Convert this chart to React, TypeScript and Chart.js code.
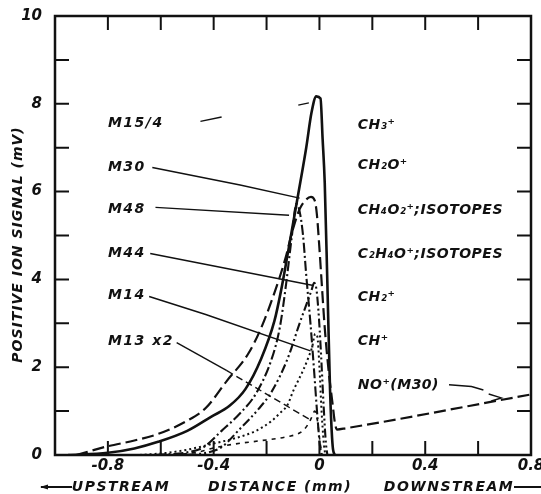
import React, { useEffect, useRef } from "react";
import { Chart, registerables } from "chart.js";

Chart.register(...registerables);

// ---- axis ranges & tick labels ----
const xMin = -1.0;
const xMax = 0.8;
const yMin = 0;
const yMax = 10;
const xLabelValues = [-0.8, -0.4, 0, 0.4, 0.8];
const xLabelTexts = ["-0.8", "-0.4", "0", "0.4", "0.8"];
const yLabelValues = [0, 2, 4, 6, 8, 10];
const yLabelTexts = ["0", "2", "4", "6", "8", "10"];

// ---- series (distance mm, signal mV) ----
// M15/4  CH3+  (solid)
const m15x = [-0.95, -0.8, -0.7, -0.61, -0.5, -0.41, -0.34, -0.28, -0.22, -0.17, -0.145, -0.118, -0.08, -0.05, -0.03, -0.012, 0.004, 0.012, 0.02, 0.03, 0.04, 0.05, 0.058];
const m15y = [0.0, 0.05, 0.15, 0.3, 0.55, 0.87, 1.12, 1.5, 2.2, 3.06, 3.75, 4.65, 5.95, 7.0, 7.8, 8.17, 8.12, 7.2, 6.2, 3.9, 1.5, 0.2, 0.0];
// M30  CH2O+ and NO+(M30)  (long dash)
const m30x = [-0.92, -0.8, -0.7, -0.61, -0.5, -0.43, -0.35, -0.27, -0.22, -0.17, -0.13, -0.1, -0.075, -0.05, -0.032, -0.018, -0.01, 0.0, 0.008, 0.02, 0.035, 0.05, 0.058, 0.066, 0.1, 0.8];
const m30y = [0.0, 0.2, 0.33, 0.48, 0.78, 1.07, 1.69, 2.3, 2.9, 3.7, 4.45, 5.15, 5.6, 5.82, 5.88, 5.8, 5.5, 4.7, 3.97, 2.9, 1.9, 1.15, 0.75, 0.58, 0.61, 1.38];
// M48  CH4O2+ (dash-dot)
const m48x = [-0.62, -0.5, -0.44, -0.37, -0.3, -0.24, -0.18, -0.15, -0.126, -0.105, -0.087, -0.075, -0.062, -0.05, -0.034, -0.02, -0.008, 0.002, 0.008];
const m48y = [0.0, 0.06, 0.17, 0.55, 0.95, 1.4, 2.2, 2.9, 3.9, 4.95, 5.72, 5.55, 5.0, 4.1, 3.0, 1.9, 0.9, 0.2, 0.0];
// M44  C2H4O+ (dash-dot-dot)
const m44x = [-0.5, -0.42, -0.37, -0.3, -0.23, -0.18, -0.12, -0.075, -0.045, -0.03, -0.02, -0.012, -0.004, 0.006, 0.016, 0.024, 0.03];
const m44y = [0.0, 0.06, 0.18, 0.6, 1.05, 1.45, 2.2, 3.0, 3.5, 3.75, 3.92, 3.8, 3.3, 2.3, 1.1, 0.3, 0.0];
// M14  CH2+ (dotted)
const m14x = [-0.68, -0.575, -0.5, -0.4, -0.32, -0.24, -0.18, -0.15, -0.12, -0.1, -0.08, -0.06, -0.04, -0.028, -0.016, -0.008, 0.0, 0.008, 0.016, 0.022];
const m14y = [0.0, 0.05, 0.12, 0.26, 0.38, 0.55, 0.78, 0.95, 1.15, 1.45, 1.7, 1.95, 2.25, 2.45, 2.76, 2.7, 2.0, 1.0, 0.3, 0.0];
// M13 x2  CH+ (short dash)
const m13x = [-0.55, -0.45, -0.4, -0.32, -0.23, -0.12, -0.07, -0.045, -0.03, -0.018, -0.008, 0.002, 0.01];
const m13y = [0.0, 0.08, 0.16, 0.25, 0.32, 0.42, 0.52, 0.68, 0.85, 1.0, 0.8, 0.3, 0.0];

// ---- leader lines ----
const leadM15aX = [-0.45, -0.37];
const leadM15aY = [7.6, 7.7];
const leadM15bX = [-0.08, -0.04];
const leadM15bY = [7.97, 8.02];
const leadM30X = [-0.632, -0.3, -0.075];
const leadM30Y = [6.55, 6.15, 5.85];
const leadM48X = [-0.62, -0.115];
const leadM48Y = [5.64, 5.46];
const leadM44X = [-0.64, -0.023];
const leadM44Y = [4.59, 3.86];
const leadM14X = [-0.644, -0.43, -0.034];
const leadM14Y = [3.61, 3.2, 2.37];
const leadM13aX = [-0.54, -0.35];
const leadM13aY = [2.56, 1.92];
const leadM13bX = [-0.35, -0.04];
const leadM13bY = [1.92, 0.82];
const leadNOX = [0.49, 0.575, 0.62];
const leadNOY = [1.6, 1.56, 1.48];
const chevNOX = [0.64, 0.688, 0.65];
const chevNOY = [1.39, 1.3, 1.23];

// ---- text labels ----
const leftLabels = ["M15/4", "M30", "M48", "M44", "M14", "M13 x2"];
const leftLabelY = [7.55, 6.56, 5.59, 4.59, 3.63, 2.6];
const leftLabelX = -0.8;
const rightLabels = ["CH₃⁺", "CH₂O⁺", "CH₄O₂⁺;ISOTOPES", "C₂H₄O⁺;ISOTOPES", "CH₂⁺", "CH⁺", "NO⁺(M30)"];
const rightLabelY = [7.5, 6.6, 5.57, 4.57, 3.6, 2.6, 1.58];
const rightLabelX = 0.145;
const yTitle = "POSITIVE ION SIGNAL (mV)";
const xTitleLeft = "UPSTREAM";
const xTitleMid = "DISTANCE (mm)";
const xTitleRight = "DOWNSTREAM";

const FONT = '"DejaVu Sans", sans-serif';

function pts(xs: number[], ys: number[]) {
  return xs.map((x, i) => ({ x, y: ys[i] }));
}

function curve(data: any, dash: number[], width: number) {
  return {
    data,
    borderColor: "#111",
    borderWidth: width,
    borderDash: dash,
    pointRadius: 0,
    fill: false,
    cubicInterpolationMode: "monotone" as const,
    borderCapStyle: "butt" as const,
  };
}

function leader(data: any, dash: number[] = []) {
  return {
    data,
    borderColor: "#111",
    borderWidth: 1.4,
    borderDash: dash,
    pointRadius: 0,
    fill: false,
    tension: 0,
  };
}

const annotPlugin = {
  id: "annot",
  afterDatasetsDraw(chart: any) {
    const { ctx, chartArea: a, scales } = chart;
    const sx = scales.x;
    const sy = scales.y;
    ctx.save();
    ctx.strokeStyle = "#111";
    ctx.fillStyle = "#111";
    // frame
    ctx.lineWidth = 2.5;
    ctx.strokeRect(a.left, a.top, a.right - a.left, a.bottom - a.top);
    // inward ticks
    ctx.lineWidth = 2;
    const tl = 14;
    ctx.beginPath();
    sx.ticks.forEach((t: any) => {
      if (t.value > xMin + 1e-6 && t.value < xMax - 1e-6) {
        const px = sx.getPixelForValue(t.value);
        ctx.moveTo(px, a.bottom);
        ctx.lineTo(px, a.bottom - tl);
        ctx.moveTo(px, a.top);
        ctx.lineTo(px, a.top + tl);
      }
    });
    sy.ticks.forEach((t: any) => {
      if (t.value > yMin + 1e-6 && t.value < yMax - 1e-6) {
        const py = sy.getPixelForValue(t.value);
        ctx.moveTo(a.left, py);
        ctx.lineTo(a.left + tl, py);
        ctx.moveTo(a.right, py);
        ctx.lineTo(a.right - tl, py);
      }
    });
    ctx.stroke();

    // series labels
    ctx.textAlign = "left";
    ctx.textBaseline = "middle";
    ctx.font = `italic bold 14px ${FONT}`;
    (ctx as any).letterSpacing = "1.5px";
    leftLabels.forEach((s, i) => {
      ctx.fillText(s, sx.getPixelForValue(leftLabelX), sy.getPixelForValue(leftLabelY[i]));
    });
    (ctx as any).letterSpacing = "0.5px";
    rightLabels.forEach((s, i) => {
      ctx.fillText(s, sx.getPixelForValue(rightLabelX), sy.getPixelForValue(rightLabelY[i]));
    });

    // y title
    ctx.font = `italic bold 14px ${FONT}`;
    (ctx as any).letterSpacing = "1px";
    ctx.save();
    ctx.translate(18, (a.top + a.bottom) / 2 + 9);
    ctx.rotate(-Math.PI / 2);
    ctx.textAlign = "center";
    ctx.fillText(yTitle, 0, 0);
    ctx.restore();

    // x title row
    const ty = 487;
    (ctx as any).letterSpacing = "1.5px";
    ctx.textAlign = "center";
    ctx.fillText(xTitleLeft, 121, ty);
    ctx.fillText(xTitleMid, 280, ty);
    ctx.fillText(xTitleRight, 449, ty);
    ctx.lineWidth = 1.8;
    ctx.beginPath();
    ctx.moveTo(41, ty);
    ctx.lineTo(72, ty);
    ctx.moveTo(514, ty);
    ctx.lineTo(541, ty);
    ctx.stroke();
    ctx.beginPath();
    ctx.moveTo(40, ty);
    ctx.lineTo(48, ty - 2.5);
    ctx.lineTo(48, ty + 2.5);
    ctx.closePath();
    ctx.fill();
    ctx.restore();
  },
};

export default function App() {
  const ref = useRef<HTMLCanvasElement | null>(null);
  useEffect(() => {
    if (!ref.current) return;
    const tickFont = { family: FONT, size: 15, style: "italic" as const, weight: "bold" as const };
    const chart = new Chart(ref.current, {
      type: "line",
      data: {
        datasets: [
          curve(pts(m15x, m15y), [], 2.6),
          curve(pts(m30x, m30y), [12, 5], 2.2),
          curve(pts(m48x, m48y), [10, 3, 2, 3], 2.1),
          curve(pts(m44x, m44y), [9, 3, 2, 3, 2, 3], 2.1),
          curve(pts(m14x, m14y), [2, 3], 2.0),
          curve(pts(m13x, m13y), [4, 5], 1.6),
          leader(pts(leadM15aX, leadM15aY)),
          leader(pts(leadM15bX, leadM15bY)),
          leader(pts(leadM30X, leadM30Y)),
          leader(pts(leadM48X, leadM48Y)),
          leader(pts(leadM44X, leadM44Y)),
          leader(pts(leadM14X, leadM14Y)),
          leader(pts(leadM13aX, leadM13aY)),
          leader(pts(leadM13bX, leadM13bY), [7, 4]),
          leader(pts(leadNOX, leadNOY)),
          leader(pts(chevNOX, chevNOY)),
        ] as any,
      },
      options: {
        animation: false,
        responsive: false,
        events: [],
        layout: { padding: { top: 16, right: 10, left: 0, bottom: 0 } },
        plugins: { legend: { display: false }, tooltip: { enabled: false } },
        scales: {
          x: {
            type: "linear",
            min: xMin,
            max: xMax,
            grid: { display: false },
            border: { display: false },
            ticks: {
              stepSize: 0.2,
              autoSkip: false,
              maxRotation: 0,
              padding: -6,
              color: "#111",
              font: tickFont,
              callback: (v: any) => {
                const r = Math.round(Number(v) * 10) / 10;
                const i = xLabelValues.findIndex((q) => Math.abs(q - r) < 1e-6);
                return i >= 0 ? xLabelTexts[i] : "";
              },
            },
            afterFit: (s: any) => {
              s.height = 39;
              s.paddingLeft = 0;
              s.paddingRight = 0;
            },
          },
          y: {
            type: "linear",
            min: yMin,
            max: yMax,
            grid: { display: false },
            border: { display: false },
            ticks: {
              stepSize: 1,
              autoSkip: false,
              padding: 5,
              color: "#111",
              font: tickFont,
              callback: (v: any) => {
                const r = Math.round(Number(v));
                const i = yLabelValues.indexOf(r);
                return i >= 0 ? yLabelTexts[i] : "";
              },
            },
            afterFit: (s: any) => {
              s.width = 55;
              s.paddingTop = 0;
              s.paddingBottom = 0;
            },
          },
        },
      },
      plugins: [annotPlugin],
    });
    return () => chart.destroy();
  }, []);
  return (
    <div style={{ position: "fixed", left: 0, top: 0, width: 541, height: 494, background: "#fff" }}>
      <canvas ref={ref} width={541} height={494} style={{ display: "block" }} />
    </div>
  );
}
